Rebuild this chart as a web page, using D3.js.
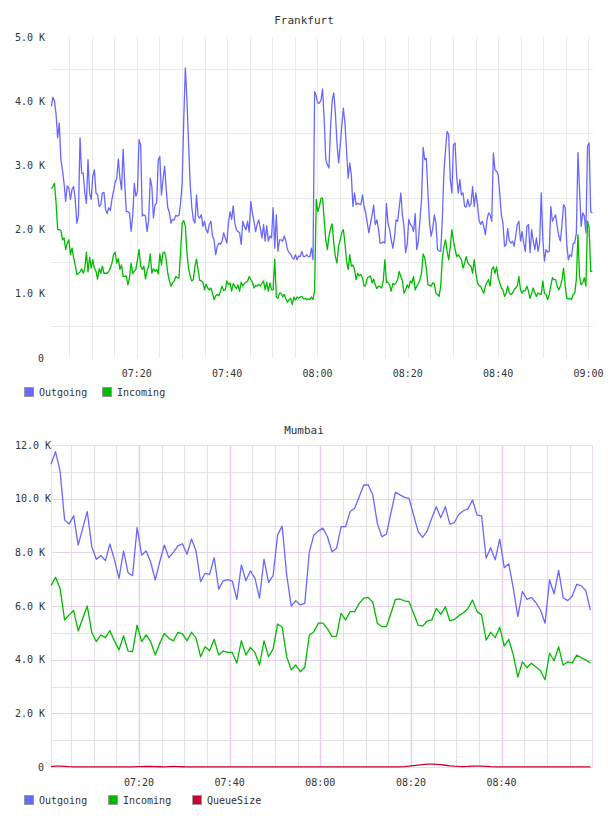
<!DOCTYPE html>
<html>
<head>
<meta charset="utf-8">
<script src="https://cdn.jsdelivr.net/npm/d3@7"></script>
<style>
  body { margin: 0; background: #fff; }
  text { font-family: "DejaVu Sans Mono", monospace; fill: #333; }
</style>
</head>
<body>
<script>
"use strict";

// ---- data ----
// Frankfurt: one sample about every 21 s
var frankfurtStart = "07:01:04";
var frankfurtStepSec = 21.2;
var frankfurtOutgoing = [
  3920,4060,4000,3790,3430,3660,3090,2930,2720,2440,2680,2650,2470,2630,2670,2470,2100,2210,3430,2880,
  2880,2570,2410,3090,2570,2470,2830,2930,2570,2540,2360,2390,2570,2580,2310,2250,2340,2300,2470,2600,
  2740,2790,3100,2800,2620,3250,2720,2280,2280,2260,1970,2210,2720,2520,2600,3400,3320,2210,2230,2210,
  1970,2140,2800,2670,2180,2390,2410,3080,3140,2540,2780,2990,2620,2340,2260,2100,2160,2150,2220,2210,
  2220,2410,2720,3710,4520,4020,3350,2720,2360,2150,2100,2540,2210,2180,2230,2050,2130,2000,1950,2080,
  2130,1900,1840,1610,1740,1790,1770,1820,1950,1870,1790,2100,2280,2160,2370,2100,2000,1970,1950,1770,
  2130,2050,2000,2130,1960,2440,2260,2130,1970,2080,2150,2020,1870,2080,1820,2060,1820,1900,1870,2340,
  1710,2230,1660,1840,1840,1820,1900,1820,1690,1640,1620,1560,1540,1610,1530,1590,1580,1660,1580,1580,
  1610,1580,1580,1710,1530,4150,4080,3970,
  3970,4020,4190,3710,3090,3010,2960,3610,4020,4130,3820,3350,3040,3300,3610,3890,3660,3240,2800,3040,
  2850,2360,2570,2390,2410,2400,2390,2540,2360,2260,2100,1950,2100,2230,2380,2080,2150,2020,1790,1790,
  1810,1790,2410,2100,2000,1840,1710,1870,2150,2130,2340,2570,2230,2050,1640,1770,2160,2080,2050,1970,
  2250,1690,1820,2150,2470,3280,3090,3110,2570,2100,1900,2020,2230,2100,1690,1670,1660,2150,2880,3240,
  3530,3480,2780,2570,3320,3350,2830,2570,2780,2540,2570,2360,2350,2470,2360,2400,2670,2360,2570,2410,
  2150,2080,2130,2050,1920,2150,2260,2230,2130,3190,2930,2910,2850,2570,2230,2100,1740,1770,2020,1820,
  1790,1820,1740,1900,2080,2130,1820,1970,1790,1660,2050,2080,1640,2000,1820,1690,1870,1660,1790,2570,
  1840,1510,1690,1650,1660,2360,2130,2180,2230,2050,1900,1820,2080,2390,2340,1770,1530,1610,1580,1790,
  1790,1950,3200,2620,2050,2260,2210,1950,3300,3350,2280,2260
];
var frankfurtIncoming = [
  2640,2670,2720,2410,2000,2000,1990,1840,1870,1690,1790,1840,1610,1710,1560,1450,1300,1320,1340,1390,
  1320,1400,1650,1340,1570,1400,1530,1400,1350,1230,1390,1320,1430,1320,1320,1320,1350,1400,1480,1610,
  1650,1480,1550,1380,1450,1270,1270,1280,1140,1250,1480,1320,1350,1380,1530,1690,1430,1380,1430,1230,
  1360,1430,1620,1320,1390,1350,1380,1310,1620,1450,1640,1650,1530,1320,1200,1120,1170,1200,1270,1250,
  1250,1640,2100,2140,2050,1640,1400,1280,1200,1220,1430,1540,1370,1210,1200,1180,1060,1150,1090,1060,
  1090,1010,910,970,990,970,1040,1120,1050,1060,1200,1140,1170,1040,1160,1120,1080,1140,1040,1180,
  1120,1160,1180,1200,1270,1220,1180,1090,1130,1120,1150,1120,1160,1200,1060,1180,1040,1170,1060,1060,
  1540,950,930,1010,1010,950,990,920,870,910,930,830,950,900,950,930,950,960,920,930,
  910,920,910,950,910,1060,2470,2280,
  2360,2490,2490,2150,1840,1690,1900,2020,2090,1790,1580,1480,1740,1840,1950,2000,1790,1510,1380,1610,
  1430,1450,1380,1220,1320,1280,1300,1250,1120,1130,1250,1260,1280,1170,1230,1140,1080,1120,1110,1090,
  1200,1530,1180,1180,1140,1040,1160,1140,1170,1220,1350,1270,1200,1010,1060,1140,1090,1200,1170,1270,
  1060,1120,1160,1220,1320,1620,1560,1400,1140,1130,1120,1170,1160,1010,990,960,1120,1530,1740,1840,
  1660,1530,1730,2000,1820,1690,1580,1610,1570,1530,1400,1480,1580,1480,1450,1430,1320,1530,1320,1170,
  1130,1120,1060,1010,1120,1180,1220,1120,1380,1420,1320,1420,1250,1170,1090,1060,960,1010,1120,1010,
  990,1010,1060,1090,1120,1270,1060,1010,1050,1050,1120,1040,930,1010,1090,1010,960,1010,1000,990,
  1200,1010,990,910,990,1120,1250,1220,1220,1120,1060,1120,1220,1400,1120,930,920,930,910,990,
  1010,1220,1920,1270,1140,1170,1250,1120,2130,2020,1350,1350
];
var frankfurtValueTicks = [0, 1000, 2000, 3000, 4000, 5000];
var frankfurtTimeLabels = ["07:20", "07:40", "08:00", "08:20", "08:40", "09:00"];

// Mumbai: one sample a minute
var mumbaiStart = "07:00:35";
var mumbaiStepSec = 60;
var mumbaiOutgoing = [
  11280,11750,11030,9210,9060,9360,8270,8900,9520,8210,7740,7880,7690,8310,7720,7030,8050,7240,7130,8920,
  7900,8050,7630,6970,7650,8270,7800,8000,8240,8320,7930,8500,8050,6910,7220,7180,7800,6630,6940,6980,
  6930,6250,7530,6940,7310,7030,6290,7750,6880,7130,8650,8980,7160,6000,6200,6040,6100,8020,8650,8800,
  8900,8580,8020,8150,8960,8960,9520,9640,10070,10510,10510,10140,9080,8580,8680,9460,10240,10140,10050,10010,
  9390,8770,8560,8800,9270,9700,9290,9700,9050,9110,9420,9550,9620,9950,9390,9360,7780,8170,7720,8490,
  7430,7570,6660,5600,6540,6250,6320,6120,5850,5360,6970,6450,7330,6310,6200,6370,6810,6750,6570,5850
];
var mumbaiIncoming = [
  6760,7070,6660,5480,5670,5830,5070,5540,6000,5010,4670,4920,4820,5080,4700,4360,4890,4320,4300,5290,
  4670,4920,4670,4170,4610,4980,4800,4700,5020,4960,4700,5020,4800,4110,4480,4330,4760,4170,4320,4270,
  4270,3870,4710,4170,4460,4270,3800,4700,4110,4400,5330,5210,4110,3620,3800,3550,3720,4920,5040,5360,
  5360,5150,4860,4880,5730,5480,5790,5790,6100,6290,6320,6140,5360,5230,5230,5730,6250,6260,6190,6160,
  5730,5290,5250,5440,5480,5910,5690,5970,5450,5500,5640,5750,5910,6220,5790,5670,4730,5020,4820,5210,
  4510,4760,4170,3350,3920,3700,3870,3730,3590,3250,4240,3960,4480,3800,3920,3880,4170,4070,3990,3880
];
var mumbaiQueueSize = [
  15,30,35,25,12,8,6,5,5,5,5,5,5,5,5,5,5,5,8,12,
  15,18,20,15,10,8,12,18,15,10,8,6,5,5,5,5,5,5,5,5,
  5,5,5,5,5,5,5,5,5,5,5,5,5,5,5,5,5,5,5,5,
  5,5,5,5,5,5,5,5,5,5,5,5,5,5,5,5,5,8,15,30,
  50,70,90,105,110,100,85,65,45,30,20,15,20,30,35,30,20,12,8,6,
  5,5,5,5,5,5,5,5,5,5,5,5,5,5,5,5,5,5,5,5
];
var mumbaiValueTicks = [0, 2000, 4000, 6000, 8000, 10000, 12000];
var mumbaiTimeLabels = ["07:20", "07:40", "08:00", "08:20", "08:40"];

var seriesNames = ["Outgoing", "Incoming", "QueueSize"];
var seriesColors = ["#6868ff", "#00bb00", "#cc0033"];

// ---- drawing ----
var parseTime = d3.utcParse("%H:%M:%S");
var parseLabel = d3.utcParse("%H:%M");

var svg = d3.select("body").append("svg")
  .attr("width", 608)
  .attr("height", 816);

function toPoints(start, stepSec, values) {
  var t0 = parseTime(start).getTime();
  return values.map(function (v, i) { return { t: new Date(t0 + i * stepSec * 1000), v: v }; });
}

function formatValue(v) {
  return v === 0 ? "0" : (v / 1000).toFixed(1) + " K";
}

function drawChart(c) {
  var g = svg.append("g");
  var x = d3.scaleTime().domain([parseTime(c.from), parseTime(c.to)]).range([c.left, c.right]);
  var y = d3.scaleLinear().domain([0, c.yMax]).range([c.bottom, c.top]);

  // vertical grid every 5 minutes, label times may get a stronger colour
  var labelTimes = c.timeLabels.map(function (s) { return +parseLabel(s); });
  g.selectAll(".vgrid")
    .data(d3.utcMinute.every(5).range(x.domain()[0], x.domain()[1]))
    .enter().append("line")
    .attr("x1", function (d) { return Math.round(x(d)) + 0.5; })
    .attr("x2", function (d) { return Math.round(x(d)) + 0.5; })
    .attr("y1", c.top).attr("y2", c.bottom)
    .attr("stroke", function (d) { return labelTimes.indexOf(+d) >= 0 ? c.majorColor : c.gridColor; })
    .attr("stroke-width", function (d) { return labelTimes.indexOf(+d) >= 0 ? c.majorWidth : 1; });

  g.selectAll(".hgrid")
    .data(d3.range(c.gridFrom, c.yMax + 1, c.gridStep))
    .enter().append("line")
    .attr("x1", c.left).attr("x2", c.right)
    .attr("y1", function (d) { return Math.round(y(d)) + 0.5; })
    .attr("y2", function (d) { return Math.round(y(d)) + 0.5; })
    .attr("stroke", function (d) { return c.valueTicks.indexOf(d) >= 0 ? c.majorColor : c.gridColor; });

  if (c.border) {
    g.append("rect")
      .attr("x", c.left + 0.5).attr("y", c.top + 0.5)
      .attr("width", c.right - c.left - 1).attr("height", c.bottom - c.top)
      .attr("fill", "none").attr("stroke", c.border);
  }

  // lines
  var line = d3.line()
    .x(function (d) { return x(d.t); })
    .y(function (d) { return y(d.v); });
  c.series.forEach(function (s, i) {
    g.append("path")
      .datum(toPoints(c.start, c.stepSec, s))
      .attr("d", line)
      .attr("fill", "none")
      .attr("stroke", seriesColors[i])
      .attr("stroke-width", 1.3)
      .attr("stroke-linejoin", "round");
  });

  // title
  g.append("text")
    .attr("x", 304).attr("y", c.titleY)
    .attr("text-anchor", "middle")
    .style("font-size", "11px")
    .text(c.title);

  // value labels: right aligned in a box 15..44, overflow to the right
  g.selectAll(".ylab")
    .data(c.valueTicks)
    .enter().append("text")
    .attr("y", function (d) { return y(d) + 3.5; })
    .style("font-size", "10px")
    .text(formatValue)
    .each(function () {
      var w = this.getComputedTextLength();
      d3.select(this).attr("x", Math.max(15, 44 - w));
    });

  g.selectAll(".xlab")
    .data(c.timeLabels)
    .enter().append("text")
    .attr("x", function (d) { return x(parseLabel(d)); })
    .attr("y", c.bottom + 19)
    .attr("text-anchor", "middle")
    .style("font-size", "10px")
    .text(function (d) { return d; });

  // legend
  var lg = g.selectAll(".legend")
    .data(c.series.map(function (s, i) { return i; }))
    .enter().append("g")
    .attr("transform", function (d) { return "translate(" + c.legendX[d] + "," + c.legendY + ")"; });
  lg.append("rect")
    .attr("x", 0.5).attr("y", 0.5).attr("width", 9).attr("height", 9)
    .attr("fill", function (d) { return seriesColors[d]; })
    .attr("stroke", "#999");
  lg.append("text")
    .attr("x", 15).attr("y", 8.5)
    .style("font-size", "10px")
    .text(function (d) { return seriesNames[d]; });
}

drawChart({
  title: "Frankfurt", titleY: 24,
  left: 51, right: 593, top: 37, bottom: 358,
  from: "07:01:00", to: "09:01:00",
  yMax: 5000, gridFrom: 500, gridStep: 1000,
  gridColor: "#ebebeb", majorColor: "#ebebeb", majorWidth: 1, border: null,
  start: frankfurtStart, stepSec: frankfurtStepSec,
  series: [frankfurtOutgoing, frankfurtIncoming],
  valueTicks: frankfurtValueTicks, timeLabels: frankfurtTimeLabels,
  legendX: [24, 102], legendY: 387
});

drawChart({
  title: "Mumbai", titleY: 434,
  left: 51, right: 593, top: 445, bottom: 767,
  from: "07:00:35", to: "09:00:10",
  yMax: 12000, gridFrom: 1000, gridStep: 1000,
  gridColor: "#e2e2e2", majorColor: "#e6d2e6", majorWidth: 1.5, border: "#ecdcec",
  start: mumbaiStart, stepSec: mumbaiStepSec,
  series: [mumbaiOutgoing, mumbaiIncoming, mumbaiQueueSize],
  valueTicks: mumbaiValueTicks, timeLabels: mumbaiTimeLabels,
  legendX: [24, 108, 192], legendY: 795
});
</script>
</body>
</html>
